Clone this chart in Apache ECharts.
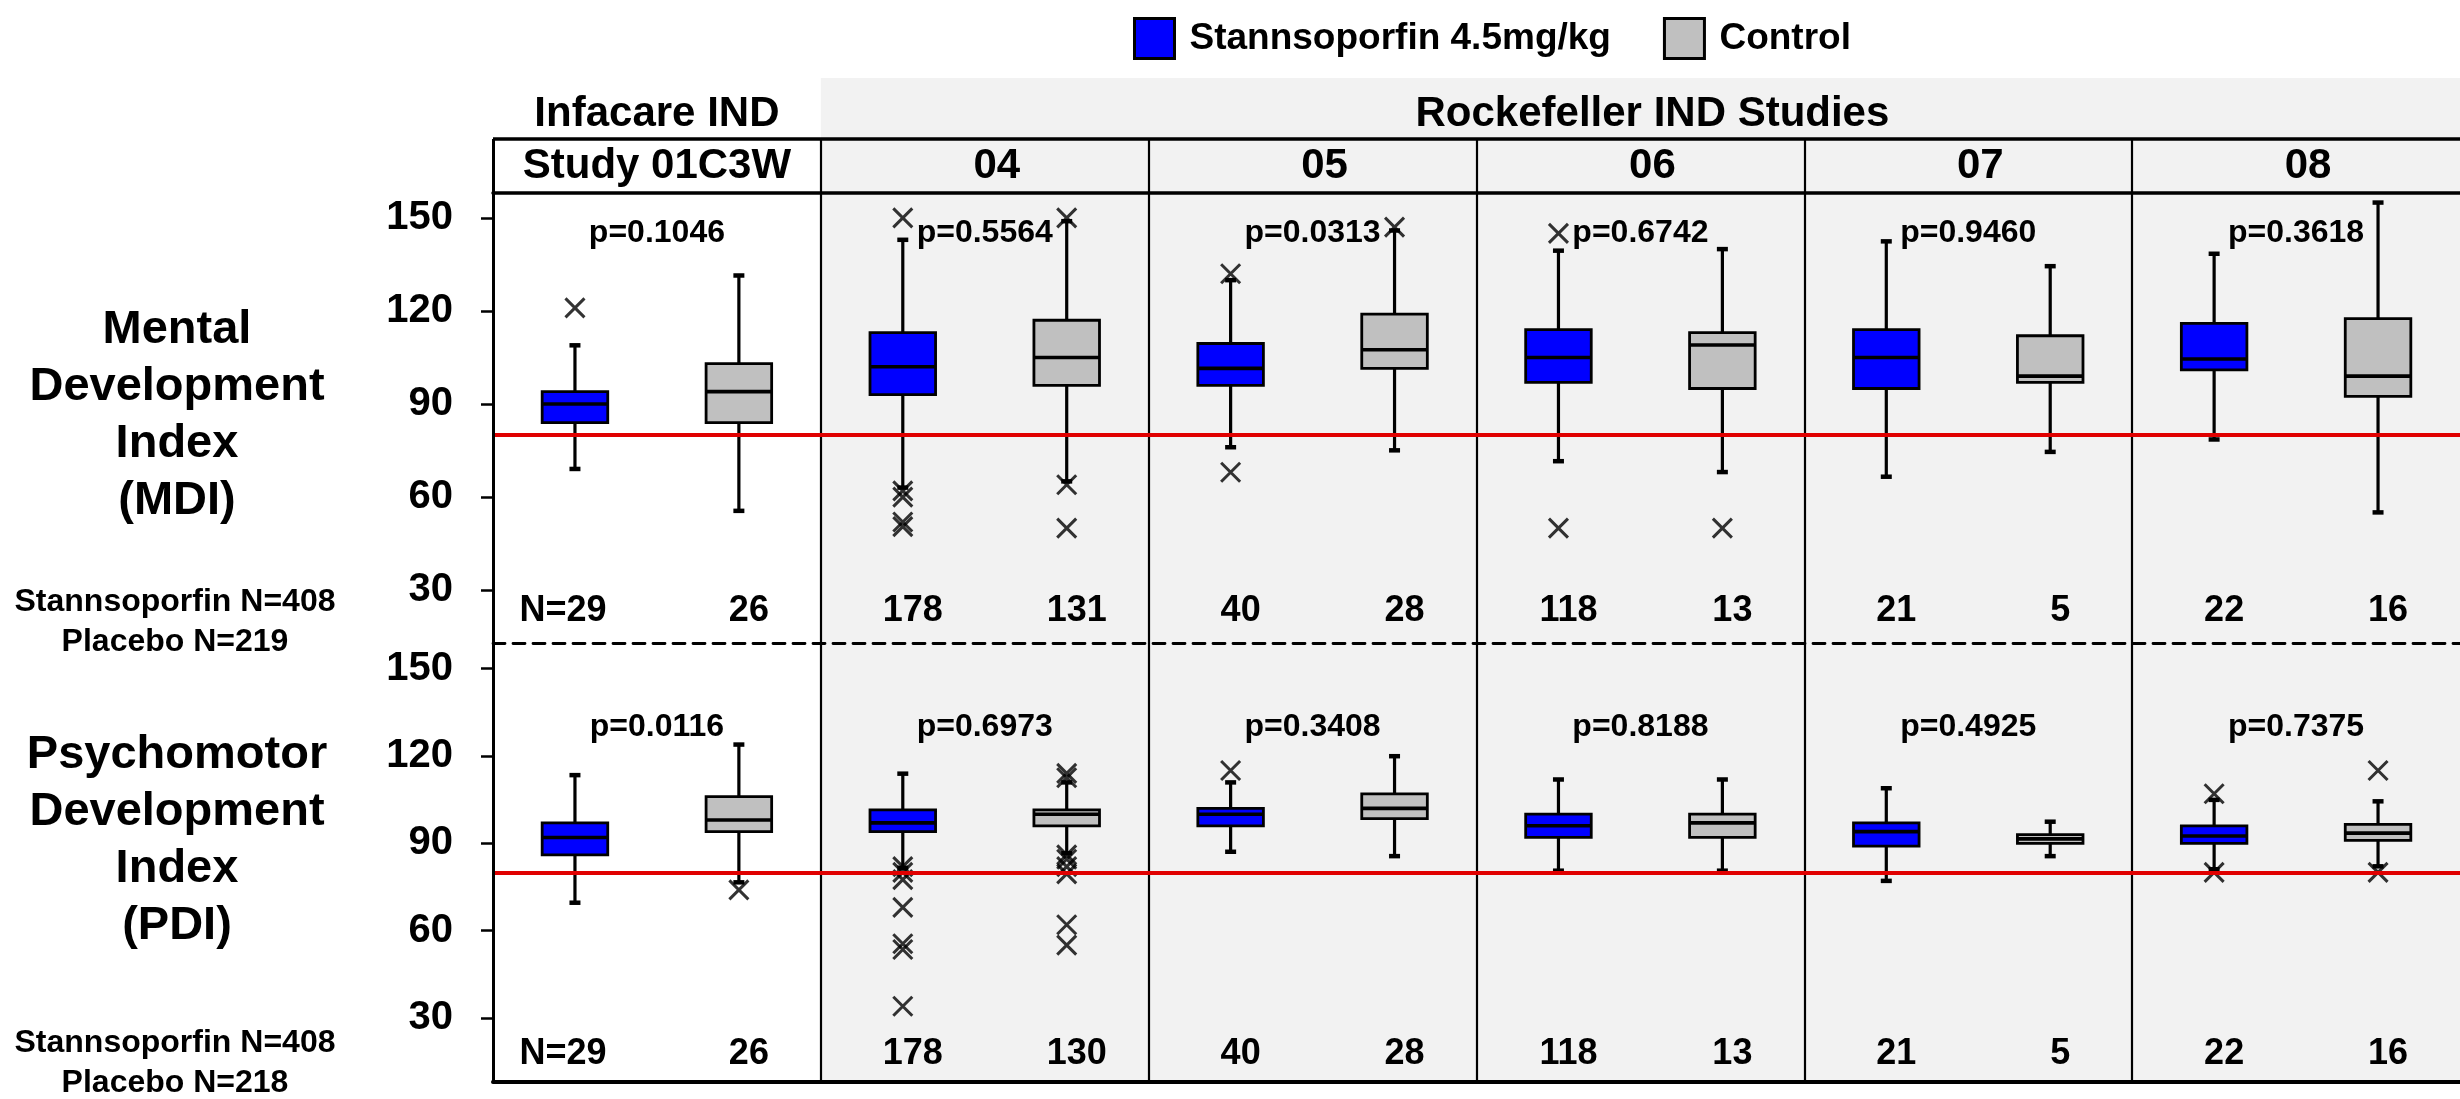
<!DOCTYPE html>
<html><head><meta charset="utf-8">
<script src="https://cdn.jsdelivr.net/npm/echarts@6/dist/echarts.min.js"></script>
<style>html,body{margin:0;padding:0;background:#fff}#c{width:2460px;height:1099px}</style>
</head><body><div id="c"></div>
<script>
// ---------------- DATA ----------------
const studies = ['Study 01C3W', '04', '05', '06', '07', '08'];
const groupHeaders = ['Infacare IND', 'Rockefeller IND Studies'];
const seriesNames = ['Stannsoporfin 4.5mg/kg', 'Control'];
const yTicks = [30, 60, 90, 120, 150];
const threshold = 80;

// [low whisker, Q1, median, Q3, high whisker]
const mdiStann = [
  [69, 84, 90, 94, 109],
  [63, 93, 102, 113, 143],
  [76, 96, 101.5, 109.5, 130],
  [71.5, 97, 105, 114, 139.5],
  [66.5, 95, 105, 114, 142.5],
  [78.5, 101, 104.5, 116, 138.5]
];
const mdiControl = [
  [55.5, 84, 94, 103, 131.5],
  [65, 96, 105, 117, 149],
  [75, 101.5, 107.5, 119, 146],
  [68, 95, 109, 113, 140],
  [74.5, 97, 99, 112, 134.5],
  [55, 92.5, 99, 117.5, 155]
];
const mdiStannOut = [[121], [150, 62, 60, 52, 50.5], [132, 68], [145, 50], [], []];
const mdiControlOut = [[], [150, 64, 50], [147], [50], [], []];

const pdiStann = [
  [69.5, 86, 92, 97, 113.5],
  [81.5, 94, 97, 101.5, 114],
  [87, 96, 100, 102, 111],
  [80.5, 92, 96, 100, 112],
  [77, 89, 94, 97, 109],
  [81, 90, 92.5, 96, 105]
];
const pdiControl = [
  [76.5, 94, 98, 106, 124],
  [86.5, 96, 100, 101.5, 111],
  [85.5, 98.5, 102, 107, 120],
  [80.5, 92, 97, 100, 112],
  [85.5, 90, 91.5, 93, 97.5],
  [82, 91, 93.5, 96.5, 104.5]
];
const pdiStannOut = [[], [82, 80, 77.5, 68, 55.5, 53.5, 34], [115], [], [], [107, 80]];
const pdiControlOut = [[74], [114, 112.5, 86, 84.5, 82, 79.5, 62, 55], [], [], [], [115, 80]];

const mdiP = ['p=0.1046', 'p=0.5564', 'p=0.0313', 'p=0.6742', 'p=0.9460', 'p=0.3618'];
const pdiP = ['p=0.0116', 'p=0.6973', 'p=0.3408', 'p=0.8188', 'p=0.4925', 'p=0.7375'];
const mdiNStann = ['N=29', '178', '40', '118', '21', '22'];
const mdiNControl = ['26', '131', '28', '13', '5', '16'];
const pdiNStann = ['N=29', '178', '40', '118', '21', '22'];
const pdiNControl = ['26', '130', '28', '13', '5', '16'];

const mdiTitle = 'Mental\nDevelopment\nIndex\n(MDI)';
const pdiTitle = 'Psychomotor\nDevelopment\nIndex\n(PDI)';
const mdiCounts = 'Stannsoporfin N=408\nPlacebo N=219';
const pdiCounts = 'Stannsoporfin N=408\nPlacebo N=218';

// ---------------- LAYOUT / STYLE ----------------
const FONT = '"Liberation Sans", Arial, Helvetica, sans-serif';
const BLUE = '#0000ff', GREY = '#c0c0c0', BG = '#f2f2f2', RED = '#e00000';
const xStann = i => 2 * i + 0.5, xCtrl = i => 2 * i + 1.5, xMid = i => 2 * i + 1;

const chart = echarts.init(document.getElementById('c'), null, {renderer: 'canvas'});

function renderBox(params, api) {
  const x = api.value(0);
  const pLo = api.coord([x, api.value(1)]);
  const pQ1 = api.coord([x, api.value(2)]);
  const pMd = api.coord([x, api.value(3)]);
  const pQ3 = api.coord([x, api.value(4)]);
  const pHi = api.coord([x, api.value(5)]);
  const w = api.size([1, 0])[0] * 0.4;
  const cx = pMd[0];
  const fill = api.visual('color');
  return {
    type: 'group',
    children: [
      {type: 'line', shape: {x1: cx, y1: pHi[1], x2: cx, y2: pQ3[1]}, style: {stroke: '#000', lineWidth: 3.2}},
      {type: 'line', shape: {x1: cx, y1: pQ1[1], x2: cx, y2: pLo[1]}, style: {stroke: '#000', lineWidth: 3.2}},
      {type: 'rect', shape: {x: cx - 5.5, y: pHi[1] - 2, width: 11, height: 4.5}, style: {fill: '#000'}},
      {type: 'rect', shape: {x: cx - 5.5, y: pLo[1] - 2.5, width: 11, height: 4.5}, style: {fill: '#000'}},
      {type: 'rect', shape: {x: cx - w / 2, y: pQ3[1], width: w, height: pQ1[1] - pQ3[1]}, style: {fill: fill, stroke: '#000', lineWidth: 2.8}},
      {type: 'line', shape: {x1: cx - w / 2, y1: pMd[1], x2: cx + w / 2, y2: pMd[1]}, style: {stroke: '#000', lineWidth: 3.6}}
    ]
  };
}

function boxSeries(name, grid, boxes, xf, color, withMarkers) {
  const s = {
    name: name, type: 'custom', xAxisIndex: grid, yAxisIndex: grid, z: 3,
    itemStyle: {color: color, borderColor: '#000', borderWidth: 3},
    encode: {x: 0, y: [1, 2, 3, 4, 5]},
    data: boxes.map((b, i) => [xf(i)].concat(b)),
    renderItem: renderBox
  };
  if (withMarkers) {
    s.markArea = {silent: true, itemStyle: {color: BG}, data: [[{xAxis: 2}, {xAxis: 12}]]};
    s.markLine = {
      silent: true, symbol: 'none', label: {show: false}, animation: false,
      data: [2, 4, 6, 8, 10].map(v => ({xAxis: v, lineStyle: {color: '#000', width: 2.2, type: 'solid'}}))
        .concat([{yAxis: threshold, lineStyle: {color: RED, width: 4.2, type: 'solid'}}])
    };
  }
  return s;
}

function outlierSeries(grid, outS, outC) {
  const data = [];
  outS.forEach((arr, i) => arr.forEach(v => data.push([xStann(i), v])));
  outC.forEach((arr, i) => arr.forEach(v => data.push([xCtrl(i), v])));
  return {
    name: 'outliers' + grid, type: 'scatter', xAxisIndex: grid, yAxisIndex: grid, z: 4,
    symbol: 'path://M0 0L20 20M20 0L0 20', symbolSize: 19,
    itemStyle: {color: 'rgba(0,0,0,0)', borderColor: '#000', borderWidth: 3},
    data: data
  };
}

function textSeries(grid, items, extra) {
  const s = {
    name: 'text' + grid, type: 'custom', xAxisIndex: grid, yAxisIndex: grid, z: 6, silent: true,
    data: items.map(it => [it.x, it.y]),
    renderItem: function (params, api) {
      const it = items[params.dataIndex];
      const p = api.coord([api.value(0), api.value(1)]);
      return {
        type: 'text', x: p[0] + (it.dx || 0), y: p[1],
        style: {text: it.text, fill: '#000', fontSize: it.size, fontWeight: 'bold', fontFamily: FONT,
                align: 'center', verticalAlign: 'middle'}
      };
    }
  };
  return Object.assign(s, extra || {});
}

const nDx = t => (t.indexOf('N=') === 0 ? -12 : 10);
const mdiTexts = [], pdiTexts = [], headTexts = [];
studies.forEach((s, i) => {
  mdiTexts.push({x: xMid(i), y: 145, text: mdiP[i], size: 32});
  pdiTexts.push({x: xMid(i), y: 130, text: pdiP[i], size: 32});
  mdiTexts.push({x: xStann(i), y: 23.3, text: mdiNStann[i], size: 36, dx: nDx(mdiNStann[i])});
  mdiTexts.push({x: xCtrl(i), y: 23.3, text: mdiNControl[i], size: 36, dx: nDx(mdiNControl[i])});
  pdiTexts.push({x: xStann(i), y: 17.6, text: pdiNStann[i], size: 36, dx: nDx(pdiNStann[i])});
  pdiTexts.push({x: xCtrl(i), y: 17.6, text: pdiNControl[i], size: 36, dx: nDx(pdiNControl[i])});
  headTexts.push({x: xMid(i), y: 27, text: s, size: 42, dx: i === 0 ? 0 : 12});
});
headTexts.push({x: 1, y: 79, text: groupHeaders[0], size: 42, dx: 0});
headTexts.push({x: 7, y: 79, text: groupHeaders[1], size: 42, dx: 12});

const headerMarkers = {
  markArea: {silent: true, itemStyle: {color: BG}, data: [[{coord: [2, 0]}, {coord: [12, 115]}]]},
  markLine: {
    silent: true, symbol: 'none', label: {show: false}, animation: false,
    data: [[{coord: [0, 54], lineStyle: {color: '#000', width: 3.5, type: 'solid'}}, {coord: [12, 54]}]]
      .concat([0, 2, 4, 6, 8, 10].map(v => [{coord: [v, 0], lineStyle: {color: '#000', width: v === 0 ? 3 : 2.2, type: 'solid'}}, {coord: [v, 54]}]))
  }
};

function xAx(grid, lineStyle) {
  return {type: 'value', gridIndex: grid, min: 0, max: 12, z: 10,
    axisLine: {show: true, onZero: false, lineStyle: lineStyle},
    axisTick: {show: false}, axisLabel: {show: false}, splitLine: {show: false}};
}
function yAx(grid, min, max) {
  return {type: 'value', gridIndex: grid, min: min, max: max, z: 10,
    axisLine: {show: true, onZero: false, lineStyle: {color: '#000', width: 3}},
    axisTick: {show: true, length: 12, customValues: yTicks, lineStyle: {color: '#000', width: 2.5}},
    axisLabel: {show: true, customValues: yTicks, margin: 40, fontSize: 40, fontWeight: 'bold', color: '#000', fontFamily: FONT},
    splitLine: {show: false}};
}

const option = {
  animation: false,
  backgroundColor: '#fff',
  textStyle: {fontFamily: FONT},
  legend: {
    left: 1128, top: 12, itemWidth: 40, itemHeight: 40, itemGap: 52, icon: 'rect', selectedMode: false,
    data: seriesNames,
    itemStyle: {borderColor: '#000', borderWidth: 3},
    textStyle: {fontSize: 37, fontWeight: 'bold', color: '#000', fontFamily: FONT, padding: [0, 0, 0, 10]}
  },
  grid: [
    {left: 493, top: 193, width: 1989, height: 450},
    {left: 493, top: 643, width: 1989, height: 439},
    {left: 493, top: 78, width: 1989, height: 115}
  ],
  xAxis: [
    xAx(0, {color: '#000', width: 2.8, type: [12, 8]}),
    xAx(1, {color: '#000', width: 4, type: 'solid'}),
    xAx(2, {color: '#000', width: 3.5, type: 'solid'})
  ],
  yAxis: [
    yAx(0, 13, 158),
    yAx(1, 8, 158.8),
    {type: 'value', gridIndex: 2, min: 0, max: 115, show: false}
  ],
  graphic: [
    {type: 'text', x: 177, y: 416, style: {text: mdiTitle, fill: '#000', fontSize: 47, fontWeight: 'bold', fontFamily: FONT, lineHeight: 57, align: 'center', verticalAlign: 'middle'}},
    {type: 'text', x: 175, y: 622, style: {text: mdiCounts, fill: '#000', fontSize: 32, fontWeight: 'bold', fontFamily: FONT, lineHeight: 40, align: 'center', verticalAlign: 'middle'}},
    {type: 'text', x: 177, y: 841, style: {text: pdiTitle, fill: '#000', fontSize: 47, fontWeight: 'bold', fontFamily: FONT, lineHeight: 57, align: 'center', verticalAlign: 'middle'}},
    {type: 'text', x: 175, y: 1063, style: {text: pdiCounts, fill: '#000', fontSize: 32, fontWeight: 'bold', fontFamily: FONT, lineHeight: 40, align: 'center', verticalAlign: 'middle'}}
  ],
  series: [
    boxSeries(seriesNames[0], 0, mdiStann, xStann, BLUE, true),
    boxSeries(seriesNames[1], 0, mdiControl, xCtrl, GREY, false),
    boxSeries(seriesNames[0], 1, pdiStann, xStann, BLUE, true),
    boxSeries(seriesNames[1], 1, pdiControl, xCtrl, GREY, false),
    outlierSeries(0, mdiStannOut, mdiControlOut),
    outlierSeries(1, pdiStannOut, pdiControlOut),
    textSeries(0, mdiTexts),
    textSeries(1, pdiTexts),
    textSeries(2, headTexts, headerMarkers)
  ]
};
chart.setOption(option);
</script>
</body></html>
